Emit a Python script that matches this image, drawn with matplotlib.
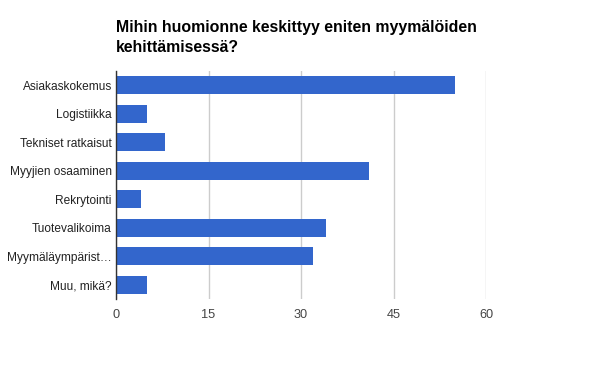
import matplotlib
matplotlib.use("Agg")
import matplotlib.pyplot as plt

plt.rcParams['font.family'] = ['Liberation Sans', 'DejaVu Sans']

title_lines = ["Mihin huomionne keskittyy eniten myymälöiden", "kehittämisessä?"]
categories = ["Asiakaskokemus", "Logistiikka", "Tekniset ratkaisut", "Myyjien osaaminen",
              "Rekrytointi", "Tuotevalikoima", "Myymäläympärist…", "Muu, mikä?"]
values = [55, 5, 8, 41, 4, 34, 32, 5]
xticks = [0, 15, 30, 45, 60]

fig = plt.figure(figsize=(6, 3.71), dpi=100)
ax = fig.add_axes([116/600, 1 - 299/371, 370/600, 228/371])

ypos = list(range(len(categories)))
ax.barh(ypos, values, height=0.62, color='#3366cc', zorder=2)
ax.set_ylim(len(categories) - 0.5, -0.5)
ax.set_xlim(0, 60)
ax.set_yticks(ypos)
ax.set_yticklabels(categories, fontsize=8.6, color='#222222')
ax.set_xticks(xticks)
ax.set_xticklabels([str(t) for t in xticks], fontsize=9.2, color='#444444')
ax.tick_params(axis='both', length=0)
ax.tick_params(axis='y', pad=3)
ax.tick_params(axis='x', pad=7)
ax.xaxis.grid(True, color='#cccccc', linewidth=1, zorder=0)

for s in ['top', 'right', 'bottom']:
    ax.spines[s].set_visible(False)
ax.spines['left'].set_color('#333333')
ax.spines['left'].set_linewidth(1)
ax.spines['left'].set_zorder(3)

# title in two lines, placed at their baselines
fig.text(116/600, 1 - 32/371, title_lines[0], fontsize=11.4, fontweight='bold',
         color='#000000', ha='left', va='baseline')
fig.text(116/600, 1 - 52/371, title_lines[1], fontsize=11.4, fontweight='bold',
         color='#000000', ha='left', va='baseline')

fig.savefig('out.png', dpi=100)
